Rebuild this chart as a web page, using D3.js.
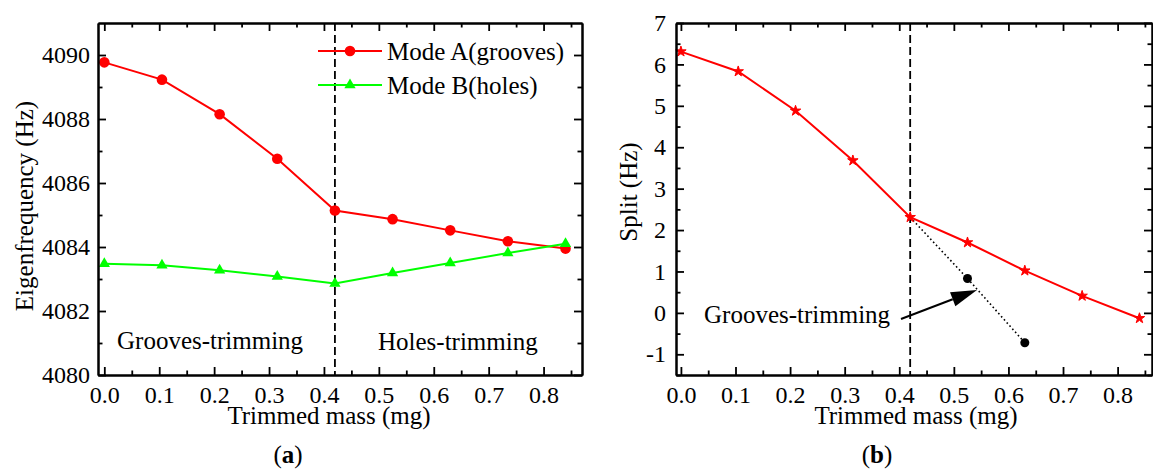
<!DOCTYPE html>
<html>
<head>
<meta charset="utf-8">
<script src="https://cdn.jsdelivr.net/npm/d3@7"></script>
<style>
  html, body { margin: 0; padding: 0; background: #fff; }
  svg text { font-family: "Liberation Serif", "Times New Roman", serif; fill: #000; }
</style>
</head>
<body>
<svg id="chart" width="1153" height="471"></svg>
<script>
// ---- Data ----
const massX = [0, 0.105, 0.21, 0.315, 0.42, 0.525, 0.63, 0.735, 0.84];
const modeA = [4089.77, 4089.23, 4088.15, 4086.76, 4085.14, 4084.87, 4084.52, 4084.18, 4083.95];
const modeB = [4083.48, 4083.43, 4083.27, 4083.08, 4082.86, 4083.19, 4083.50, 4083.81, 4084.10];
const splitHz = [6.31, 5.83, 4.88, 3.68, 2.31, 1.70, 1.02, 0.41, -0.13];
const grooveOnlyX = [0.42, 0.525, 0.63];
const grooveOnlySplit = [2.31, 0.83, -0.72];
const xMajorTicks = [0, 0.1, 0.2, 0.3, 0.4, 0.5, 0.6, 0.7, 0.8];
const xMinorTicks = [0.05, 0.15, 0.25, 0.35, 0.45, 0.55, 0.65, 0.75, 0.85];
const yAMajorTicks = [4080, 4082, 4084, 4086, 4088, 4090];
const yAMinorTicks = [4081, 4083, 4085, 4087, 4089];
const yBMajorTicks = [-1, 0, 1, 2, 3, 4, 5, 6, 7];
const yBMinorTicks = [-1.5, -0.5, 0.5, 1.5, 2.5, 3.5, 4.5, 5.5, 6.5];
const boundaryX = 0.42;
const legendLabels = ["Mode A(grooves)", "Mode B(holes)"];

const svg = d3.select("#chart");
const RED = "#ff0000", GREEN = "#00ff00";
const TICK = 24, LABEL = 25;

function frame(g, x, y, xMaj, xMin, yMaj, yMin, yFmt, yPad) {
  const [x0, x1] = x.range(), [y1, y0] = y.range();
  const styleAxis = sel => {
    sel.select(".domain").attr("stroke", "#000").attr("stroke-width", 2);
    sel.selectAll(".tick line").attr("stroke", "#000").attr("stroke-width", 1.8);
    sel.selectAll(".tick text").attr("font-size", TICK).attr("font-family", "Liberation Serif");
  };
  g.append("g").attr("transform", `translate(0,${y1})`)
    .call(d3.axisBottom(x).tickValues(xMaj).tickSizeInner(-8).tickSizeOuter(0).tickPadding(11).tickFormat(d3.format(".1f")))
    .call(styleAxis);
  g.append("g").attr("transform", `translate(0,${y1})`)
    .call(d3.axisBottom(x).tickValues(xMin).tickSizeInner(-4.5).tickSizeOuter(0).tickFormat(""))
    .call(styleAxis);
  g.append("g").attr("transform", `translate(0,${y0})`)
    .call(d3.axisTop(x).tickValues(xMaj).tickSizeInner(-8).tickSizeOuter(0).tickFormat(""))
    .call(styleAxis);
  g.append("g").attr("transform", `translate(0,${y0})`)
    .call(d3.axisTop(x).tickValues(xMin).tickSizeInner(-4.5).tickSizeOuter(0).tickFormat(""))
    .call(styleAxis);
  g.append("g").attr("transform", `translate(${x0},0)`)
    .call(d3.axisLeft(y).tickValues(yMaj).tickSizeInner(-8).tickSizeOuter(0).tickPadding(yPad).tickFormat(yFmt))
    .call(styleAxis);
  g.append("g").attr("transform", `translate(${x0},0)`)
    .call(d3.axisLeft(y).tickValues(yMin).tickSizeInner(-4.5).tickSizeOuter(0).tickFormat(""))
    .call(styleAxis);
  g.append("g").attr("transform", `translate(${x1},0)`)
    .call(d3.axisRight(y).tickValues(yMaj).tickSizeInner(-8).tickSizeOuter(0).tickFormat(""))
    .call(styleAxis);
  g.append("g").attr("transform", `translate(${x1},0)`)
    .call(d3.axisRight(y).tickValues(yMin).tickSizeInner(-4.5).tickSizeOuter(0).tickFormat(""))
    .call(styleAxis);
}

// ================= Panel (a) =================
const xA = d3.scaleLinear().domain([-0.0115, 0.87]).range([98, 582]);
const yA = d3.scaleLinear().domain([4080, 4091]).range([375, 23]);
const gA = svg.append("g");

gA.append("line").attr("x1", xA(boundaryX)).attr("x2", xA(boundaryX))
  .attr("y1", yA(4091)).attr("y2", yA(4080))
  .attr("stroke", "#000").attr("stroke-width", 1.8).attr("stroke-dasharray", "8,4");

const lineA = d3.line().x((d, i) => xA(massX[i])).y(d => yA(d));
gA.append("path").datum(modeA).attr("d", lineA).attr("fill", "none").attr("stroke", RED).attr("stroke-width", 2);
gA.append("path").datum(modeB).attr("d", lineA).attr("fill", "none").attr("stroke", GREEN).attr("stroke-width", 2);

gA.selectAll("circle.a").data(modeA).join("circle")
  .attr("cx", (d, i) => xA(massX[i])).attr("cy", d => yA(d)).attr("r", 5.3).attr("fill", RED);
const tri = d3.symbol().type(d3.symbolTriangle).size(55);
gA.selectAll("path.b").data(modeB).join("path")
  .attr("transform", (d, i) => `translate(${xA(massX[i])},${yA(d)})`)
  .attr("d", tri).attr("fill", GREEN);

frame(gA, xA, yA, xMajorTicks, xMinorTicks, yAMajorTicks, yAMinorTicks, d => String(d), 8);

// legend
const legY = [51, 85];
legendLabels.forEach((lab, i) => {
  const col = i === 0 ? RED : GREEN;
  gA.append("line").attr("x1", 318).attr("x2", 382).attr("y1", legY[i]).attr("y2", legY[i])
    .attr("stroke", col).attr("stroke-width", 2);
  if (i === 0) gA.append("circle").attr("cx", 350).attr("cy", legY[i]).attr("r", 5.3).attr("fill", col);
  else gA.append("path").attr("transform", `translate(350,${legY[i]})`).attr("d", tri).attr("fill", col);
  gA.append("text").attr("x", 387).attr("y", legY[i]).attr("dominant-baseline", "central")
    .attr("font-size", LABEL).text(lab);
});

gA.append("text").attr("x", 117).attr("y", 349).attr("font-size", LABEL).text("Grooves-trimming");
gA.append("text").attr("x", 378).attr("y", 350).attr("font-size", LABEL).text("Holes-trimming");

gA.append("text").attr("x", 329).attr("y", 424).attr("text-anchor", "middle")
  .attr("font-size", LABEL).text("Trimmed mass (mg)");
gA.append("text").attr("transform", "translate(24,206) rotate(-90)").attr("text-anchor", "middle")
  .attr("dominant-baseline", "central").attr("font-size", LABEL).text("Eigenfrequency (Hz)");
const capA = gA.append("text").attr("x", 288).attr("y", 463).attr("text-anchor", "middle").attr("font-size", LABEL);
capA.append("tspan").text("(");
capA.append("tspan").attr("font-weight", "bold").text("a");
capA.append("tspan").text(")");

// ================= Panel (b) =================
const xB = d3.scaleLinear().domain([-0.009, 0.863]).range([676, 1152]);
const yB = d3.scaleLinear().domain([-1.5, 7]).range([375, 23]);
const gB = svg.append("g");

gB.append("line").attr("x1", xB(boundaryX)).attr("x2", xB(boundaryX))
  .attr("y1", yB(7)).attr("y2", yB(-1.5))
  .attr("stroke", "#000").attr("stroke-width", 1.8).attr("stroke-dasharray", "8,4");

const lineB = d3.line().x((d, i) => xB(massX[i])).y(d => yB(d));
gB.append("path").datum(splitHz).attr("d", lineB).attr("fill", "none").attr("stroke", RED).attr("stroke-width", 2);

const lineG = d3.line().x((d, i) => xB(grooveOnlyX[i])).y(d => yB(d));
gB.append("path").datum(grooveOnlySplit).attr("d", lineG).attr("fill", "none")
  .attr("stroke", "#000").attr("stroke-width", 1.6).attr("stroke-dasharray", "1.6,2.6");

const star = d3.symbol().type(d3.symbolStar).size(34);
gB.selectAll("path.s").data(splitHz).join("path")
  .attr("transform", (d, i) => `translate(${xB(massX[i])},${yB(d)})`)
  .attr("d", star).attr("fill", RED).attr("stroke", RED).attr("stroke-width", 1);

gB.selectAll("circle.g").data(grooveOnlySplit.slice(1)).join("circle")
  .attr("cx", (d, i) => xB(grooveOnlyX[i + 1])).attr("cy", d => yB(d)).attr("r", 4.5).attr("fill", "#000");

frame(gB, xB, yB, xMajorTicks, xMinorTicks, yBMajorTicks, yBMinorTicks, d => String(d), 10);

// annotation
gB.append("text").attr("x", 704).attr("y", 323).attr("font-size", LABEL).text("Grooves-trimming");
const ax0 = 901, ay0 = 319, ax1 = 977, ay1 = 290;
const ang = Math.atan2(ay1 - ay0, ax1 - ax0);
const hl = 26, hw = 7.5;
const bx = ax1 - hl * Math.cos(ang), by = ay1 - hl * Math.sin(ang);
gB.append("line").attr("x1", ax0).attr("y1", ay0).attr("x2", bx).attr("y2", by)
  .attr("stroke", "#000").attr("stroke-width", 2);
gB.append("path").attr("d", `M${ax1},${ay1} L${bx - hw * Math.sin(ang)},${by + hw * Math.cos(ang)} L${bx + hw * Math.sin(ang)},${by - hw * Math.cos(ang)} Z`)
  .attr("fill", "#000");

gB.append("text").attr("x", 916).attr("y", 424).attr("text-anchor", "middle")
  .attr("font-size", LABEL).text("Trimmed mass (mg)");
gB.append("text").attr("transform", "translate(628,192) rotate(-90)").attr("text-anchor", "middle")
  .attr("dominant-baseline", "central").attr("font-size", LABEL).text("Split (Hz)");
const capB = gB.append("text").attr("x", 877).attr("y", 463).attr("text-anchor", "middle").attr("font-size", LABEL);
capB.append("tspan").text("(");
capB.append("tspan").attr("font-weight", "bold").text("b");
capB.append("tspan").text(")");
</script>
</body>
</html>
